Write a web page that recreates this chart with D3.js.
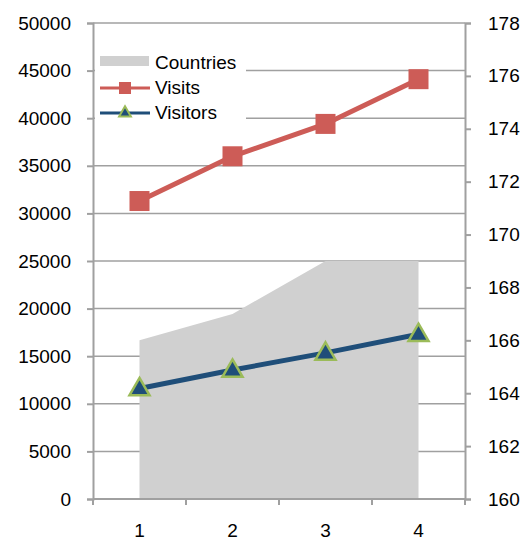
<!DOCTYPE html>
<html>
<head>
<meta charset="utf-8">
<script src="https://cdn.jsdelivr.net/npm/d3@7"></script>
<style>
  body { margin: 0; background: #fff; }
  text { font-family: "Liberation Sans", Arial, sans-serif; }
</style>
</head>
<body>
<div id="chart"></div>
<script>
// data
const categories = [1, 2, 3, 4];
const countries = [166, 167, 169, 169];      // right axis
const visits = [31300, 36000, 39400, 44100];  // left axis
const visitors = [11600, 13550, 15350, 17300];
const leftTicks = d3.range(0, 50001, 5000);
const rightTicks = d3.range(160, 179, 2);

const width = 523, height = 541;
const margin = {top: 23, right: 58, bottom: 42, left: 93};
const fontSize = 19;

const svg = d3.select("#chart").append("svg")
    .attr("width", width)
    .attr("height", height);

const x = d3.scaleBand()
    .domain(categories)
    .range([margin.left, width - margin.right]);

const yLeft = d3.scaleLinear()
    .domain([0, 50000])
    .range([height - margin.bottom, margin.top]);

const yRight = d3.scaleLinear()
    .domain([160, 178])
    .range([height - margin.bottom, margin.top]);

const cx = d => x(d) + x.bandwidth() / 2;
const axisColor = "#a0a0a0";

// gridlines
svg.append("g")
  .selectAll("line")
  .data(leftTicks.slice(1))
  .join("line")
    .attr("x1", margin.left)
    .attr("x2", width - margin.right)
    .attr("y1", d => yLeft(d))
    .attr("y2", d => yLeft(d))
    .attr("stroke", axisColor)
    .attr("stroke-width", 1.5);

// countries area (right axis)
const area = d3.area()
    .x((d, i) => cx(categories[i]))
    .y0(yRight(160))
    .y1(d => yRight(d));

svg.append("path")
    .datum(countries)
    .attr("d", area)
    .attr("fill", "#d0d0d0");

// left axis
const leftAxis = svg.append("g")
    .attr("transform", `translate(${margin.left},0)`)
    .call(d3.axisLeft(yLeft).tickValues(leftTicks).tickSize(6).tickPadding(16).tickFormat(d3.format("d")));

// right axis
const rightAxis = svg.append("g")
    .attr("transform", `translate(${width - margin.right},0)`)
    .call(d3.axisRight(yRight).tickValues(rightTicks).tickSize(6).tickPadding(17));

// bottom axis: ticks on category boundaries
const bottom = svg.append("g")
    .attr("transform", `translate(0,${height - margin.bottom})`);
bottom.append("line")
    .attr("x1", margin.left).attr("x2", width - margin.right)
    .attr("stroke", axisColor).attr("stroke-width", 2);
bottom.selectAll(".tk")
  .data(categories.concat([null]))
  .join("line")
    .attr("class", "tk")
    .attr("x1", (d, i) => i < categories.length ? x(d) : x(categories[i - 1]) + x.bandwidth())
    .attr("x2", (d, i) => i < categories.length ? x(d) : x(categories[i - 1]) + x.bandwidth())
    .attr("y1", 0).attr("y2", 6)
    .attr("stroke", axisColor).attr("stroke-width", 2);
bottom.selectAll("text")
  .data(categories)
  .join("text")
    .attr("x", d => cx(d))
    .attr("y", 38)
    .attr("text-anchor", "middle")
    .attr("font-size", fontSize)
    .attr("fill", "#000")
    .text(d => d);

[leftAxis, rightAxis].forEach(a => {
  a.select(".domain").attr("stroke", axisColor).attr("stroke-width", 2);
  a.selectAll(".tick line").attr("stroke", axisColor).attr("stroke-width", 2);
  a.selectAll(".tick text").attr("font-size", fontSize).attr("fill", "#000")
    .style("font-family", "'Liberation Sans', Arial, sans-serif");
});

// lines
const visitsColor = "#cd5c57";
const visitorsColor = "#1f4e79";
const markerStroke = "#9bbb59";

const line = d3.line()
    .x((d, i) => cx(categories[i]))
    .y(d => yLeft(d));

svg.append("path")
    .datum(visits)
    .attr("d", line)
    .attr("fill", "none")
    .attr("stroke", visitsColor)
    .attr("stroke-width", 5);

svg.append("g")
  .selectAll("rect")
  .data(visits)
  .join("rect")
    .attr("x", (d, i) => cx(categories[i]) - 10)
    .attr("y", d => yLeft(d) - 10)
    .attr("width", 20)
    .attr("height", 20)
    .attr("fill", visitsColor);

svg.append("path")
    .datum(visitors)
    .attr("d", line)
    .attr("fill", "none")
    .attr("stroke", visitorsColor)
    .attr("stroke-width", 5);

const tri = d3.symbol().type(d3.symbolTriangle).size(175);
svg.append("g")
  .selectAll("path")
  .data(visitors)
  .join("path")
    .attr("d", tri)
    .attr("transform", (d, i) => `translate(${cx(categories[i])},${yLeft(d) + 1})`)
    .attr("fill", visitorsColor)
    .attr("stroke", markerStroke)
    .attr("stroke-width", 2.5);

// legend
const legend = svg.append("g");
legend.append("rect")
    .attr("x", 95).attr("y", 45)
    .attr("width", 151).attr("height", 80)
    .attr("fill", "#fff");

legend.append("rect")
    .attr("x", 100).attr("y", 56)
    .attr("width", 49).attr("height", 10)
    .attr("fill", "#d0d0d0");
legend.append("text")
    .attr("x", 155).attr("y", 69)
    .attr("font-size", fontSize).text("Countries");

legend.append("line")
    .attr("x1", 100).attr("x2", 150).attr("y1", 88).attr("y2", 88)
    .attr("stroke", visitsColor).attr("stroke-width", 3);
legend.append("rect")
    .attr("x", 119).attr("y", 82).attr("width", 12).attr("height", 12)
    .attr("fill", visitsColor);
legend.append("text")
    .attr("x", 155).attr("y", 94)
    .attr("font-size", fontSize).text("Visits");

legend.append("line")
    .attr("x1", 100).attr("x2", 150).attr("y1", 113).attr("y2", 113)
    .attr("stroke", visitorsColor).attr("stroke-width", 3);
legend.append("path")
    .attr("d", d3.symbol().type(d3.symbolTriangle).size(60))
    .attr("transform", "translate(125,113)")
    .attr("fill", visitorsColor)
    .attr("stroke", markerStroke)
    .attr("stroke-width", 2);
legend.append("text")
    .attr("x", 155).attr("y", 119)
    .attr("font-size", fontSize).text("Visitors");
</script>
</body>
</html>
